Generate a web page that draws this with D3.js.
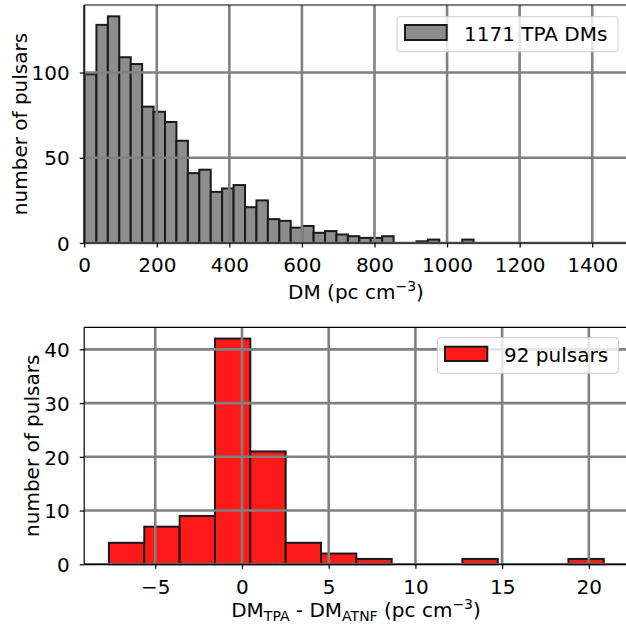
<!DOCTYPE html>
<html>
<head>
<meta charset="utf-8">
<script src="https://cdn.jsdelivr.net/npm/d3@7"></script>
<style>
  html, body { margin: 0; padding: 0; background: #fff; }
  svg { display: block; }
  text { font-family: "DejaVu Sans", sans-serif; fill: #000; }
</style>
</head>
<body>
<svg id="chart" width="626" height="627"></svg>
<script>
// ---------- data ----------
// Top histogram: DM of TPA pulsars (counts per bin)
const tpaCounts = [99, 128, 133, 109, 105, 80, 77, 71, 60, 41, 43, 30, 32, 34, 21, 25, 14,
                   13, 9, 10, 6, 7, 5, 4, 3, 3, 4, 0, 0, 1, 2, 0, 0, 2];
const tpaBinStart = 2.2;
const tpaBinWidth = 31.5;
const tpaLegend = "1171 TPA DMs";
const tpaXTicks = [0, 200, 400, 600, 800, 1000, 1200, 1400];
const tpaYTicks = [0, 50, 100];

// Bottom histogram: DM_TPA - DM_ATNF (counts per bin)
const diffCounts = [4, 7, 9, 42, 21, 4, 2, 1, 0, 0, 1, 0, 0, 1];
const diffBinStart = -7.67;
const diffBinEnd = 20.86;
const diffLegend = "92 pulsars";
const diffXTicks = [-5, 0, 5, 10, 15, 20];
const diffYTicks = [0, 10, 20, 30, 40];

// ---------- drawing ----------
const svg = d3.select("#chart");
const FONT = 20;
const gridColor = "#808080";
const edgeColor = "#1a1a1a";
const edgeWidth = 2;

function histPanel(opts) {
  const g = svg.append("g");
  const x = d3.scaleLinear().domain(opts.xDomain).range([84.2, 628.5]);
  const y = d3.scaleLinear().domain(opts.yDomain).range([opts.bottom, opts.top]);

  const bins = opts.counts.map((c, i) => ({
    x0: opts.binStart + i * opts.binWidth,
    x1: opts.binStart + (i + 1) * opts.binWidth,
    c
  })).filter(b => b.c > 0);

  g.selectAll("rect.bar").data(bins).enter().append("rect")
    .attr("class", "bar")
    .attr("x", d => x(d.x0))
    .attr("width", d => x(d.x1) - x(d.x0))
    .attr("y", d => y(d.c))
    .attr("height", d => y(0) - y(d.c))
    .attr("fill", opts.fill)
    .attr("stroke", edgeColor)
    .attr("stroke-width", edgeWidth);

  // grid (drawn above bars)
  const grid = g.append("g");
  grid.selectAll("line.vg").data(opts.xTicks).enter().append("line")
    .attr("x1", d => x(d)).attr("x2", d => x(d))
    .attr("y1", opts.top).attr("y2", opts.bottom)
    .attr("stroke", gridColor).attr("stroke-width", 2.6);
  grid.selectAll("line.hg").data(opts.yTicks).enter().append("line")
    .attr("y1", d => y(d)).attr("y2", d => y(d))
    .attr("x1", 84.2).attr("x2", 628.5)
    .attr("stroke", gridColor).attr("stroke-width", 2.6);

  // axes
  const xAxis = d3.axisBottom(x).tickValues(opts.xTicks)
    .tickSize(4.5).tickPadding(10)
    .tickFormat(d => d < 0 ? "\u2212" + Math.abs(d) : String(d));
  const ax = g.append("g").attr("transform", `translate(0,${opts.bottom})`).call(xAxis);
  ax.select(".domain").remove();
  ax.selectAll(".tick line").attr("stroke", "#000").attr("stroke-width", 1.2);
  ax.selectAll(".tick text").attr("font-size", FONT).attr("font-family", "DejaVu Sans")
    .attr("dy", null).attr("y", 29.3).attr("fill", "#000");

  const yAxis = d3.axisLeft(y).tickValues(opts.yTicks).tickSize(4.5).tickPadding(10);
  const ay = g.append("g").attr("transform", `translate(84.2,0)`).call(yAxis);
  ay.select(".domain").remove();
  ay.selectAll(".tick line").attr("stroke", "#000").attr("stroke-width", 1.2);
  ay.selectAll(".tick text").attr("font-size", FONT).attr("font-family", "DejaVu Sans")
    .attr("dy", "0.36em").attr("fill", "#000");

  // spines
  g.append("line").attr("x1", 84.2).attr("x2", 84.2).attr("y1", opts.top).attr("y2", opts.bottom)
    .attr("stroke", "#000").attr("stroke-width", 1.2);
  g.append("line").attr("x1", 84.2).attr("x2", 628.5).attr("y1", opts.bottom).attr("y2", opts.bottom)
    .attr("stroke", "#000").attr("stroke-width", 1.2);
  g.append("line").attr("x1", 84.2).attr("x2", 628.5).attr("y1", opts.top).attr("y2", opts.top)
    .attr("stroke", "#000").attr("stroke-width", 1.2);

  // y label
  g.append("text")
    .attr("transform", `translate(${opts.ylabelX},${(opts.top + opts.bottom) / 2}) rotate(-90)`)
    .attr("text-anchor", "middle").attr("font-size", FONT)
    .text("number of pulsars");

  // legend
  const L = opts.legend;
  const lg = g.append("g");
  lg.append("rect").attr("x", L.x).attr("y", L.y).attr("width", L.w).attr("height", L.h)
    .attr("rx", 3).attr("fill", "#fff").attr("fill-opacity", 0.8)
    .attr("stroke", "#cccccc").attr("stroke-width", 1);
  lg.append("rect").attr("x", L.px).attr("y", L.py).attr("width", L.pw).attr("height", L.ph)
    .attr("fill", opts.fill).attr("stroke", edgeColor).attr("stroke-width", edgeWidth);
  lg.append("text").attr("x", L.tx).attr("y", L.ty).attr("font-size", FONT).text(L.text);

  return g;
}

const topPanel = histPanel({
  counts: tpaCounts, binStart: tpaBinStart, binWidth: tpaBinWidth,
  xDomain: [0, 1500], yDomain: [0, d3.max(tpaCounts) * 1.05],
  top: 5, bottom: 243, fill: "#8d8d8d",
  xTicks: tpaXTicks, yTicks: tpaYTicks, ylabelX: 27,
  legend: { x: 397, y: 16.7, w: 221, h: 35, px: 405, py: 25, pw: 41.7, ph: 15,
            tx: 464, ty: 41, text: tpaLegend }
});
topPanel.append("text").attr("x", 356).attr("y", 299.3).attr("text-anchor", "middle")
  .attr("font-size", FONT)
  .call(t => {
    t.append("tspan").text("DM (pc cm");
    t.append("tspan").attr("font-size", 14).attr("dy", -8).text("\u22123");
    t.append("tspan").attr("dy", 8).text(")");
  });

const diffBinWidth = (diffBinEnd - diffBinStart) / diffCounts.length;
const diffRange = diffBinEnd - diffBinStart;
const bottomPanel = histPanel({
  counts: diffCounts, binStart: diffBinStart, binWidth: diffBinWidth,
  xDomain: [diffBinStart - 0.05 * diffRange, diffBinEnd + 0.05 * diffRange],
  yDomain: [0, d3.max(diffCounts) * 1.05],
  top: 327.3, bottom: 564.3, fill: "#ff1a1a",
  xTicks: diffXTicks, yTicks: diffYTicks, ylabelX: 39,
  legend: { x: 437.3, y: 337.7, w: 181, h: 35.6, px: 445, py: 346.7, pw: 42.3, ph: 14.3,
            tx: 504, ty: 361.5, text: diffLegend }
});
bottomPanel.append("text").attr("x", 356).attr("y", 617).attr("text-anchor", "middle")
  .attr("font-size", FONT)
  .call(t => {
    t.append("tspan").text("DM");
    t.append("tspan").attr("font-size", 14).attr("dy", 4).text("TPA");
    t.append("tspan").attr("dy", -4).text(" - DM");
    t.append("tspan").attr("font-size", 14).attr("dy", 4).text("ATNF");
    t.append("tspan").attr("dy", -4).text(" (pc cm");
    t.append("tspan").attr("font-size", 14).attr("dy", -8).text("\u22123");
    t.append("tspan").attr("dy", 8).text(")");
  });
</script>
</body>
</html>
